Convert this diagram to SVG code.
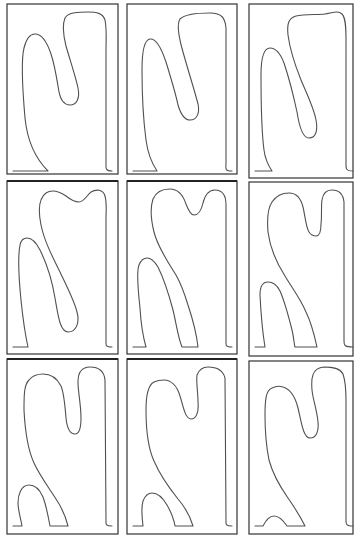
<svg xmlns="http://www.w3.org/2000/svg" width="354" height="535" viewBox="0 0 354 535">
<style>
.frame{fill:#fff;stroke:#333;stroke-width:1.2}
.bold{stroke:#222;stroke-width:2}
.curve{fill:none;stroke:#505050;stroke-width:1.1;stroke-linejoin:round;stroke-linecap:round}
</style>
<rect width="354" height="535" fill="#fff"/>
<g id="panel1">
<rect class="frame" x="7" y="4" width="111" height="170"/>
<path class="curve" d="M13,171 H48 C40,163 28,148 25,118 C23,95 21,60 24,48 C27,36 31,34 35,34 C42,34 47,42 51,54 C55,66 57,80 59,92 C61,102 65,105 70,105 C77,105 80,98 78,88 C76,78 70,60 66,46 C63,34 62,25 65,18 C68,12 80,12 88,12 C96,12 103,13 105,20 C107,30 106,40 106,50 L106,163 C106,168 105,171 112,171"/>
</g>
<g id="panel2">
<rect class="frame" x="127" y="4" width="110" height="170"/>
<path class="curve" d="M133,171 H157 C153,165 148,155 146,140 C144,125 142,95 142,70 C142,55 143,40 150,39 C157,38 162,50 166,62 C170,75 176,95 178,105 C181,115 185,120 190,120 C197,120 200,113 198,104 C195,92 188,70 183,52 C179,38 176,25 180,19 C185,14 200,13 210,13 C222,13 225,18 226,28 L226,163 C226,168 224,171 232,171"/>
</g>
<g id="panel3">
<rect class="frame" x="249" y="4" width="104" height="174"/>
<path class="curve" d="M255,171 H272 C268,165 265,158 264,150 C262,135 261,100 261,75 C261,60 263,48 270,48 C277,48 281,55 284,63 C289,78 294,98 297,112 C299,125 302,138 309,138 C316,138 318,130 316,120 C314,108 306,92 301,80 C295,65 290,50 288,35 C287,25 288,18 296,16 C305,14 318,15 325,14 C332,13 338,10 342,14 C346,18 346,30 346,40 L346,163 C346,168 345,171 353,171"/>
</g>
<g id="panel4">
<rect class="frame" x="7" y="181" width="111" height="173"/>
<line class="bold" x1="7" y1="181" x2="118" y2="181"/>
<path class="curve" d="M13,347 H28 C26,338 23,320 21,300 C19,280 18,255 20,245 C21,240 24,238 27,238 C32,238 36,242 40,250 C46,262 52,280 55,298 C58,315 60,332 68,332 C76,332 80,323 77,312 C74,300 66,285 60,272 C52,256 44,240 41,225 C38,210 39,198 46,193 C52,189 60,192 66,196 C71,200 75,202 79,202 C84,202 87,195 91,192 C96,189 103,189 105,196 C107,203 106,210 106,220 L106,341 C106,345 105,347 112,347"/>
</g>
<g id="panel5">
<rect class="frame" x="127" y="181" width="110" height="173"/>
<line class="bold" x1="127" y1="181" x2="237" y2="181"/>
<path class="curve" d="M133,347 H146 C144,340 141,325 140,308 C138,290 137,270 139,265 C141,260 144,258 147,258 C152,258 155,262 158,267 C163,277 169,295 173,310 C176,322 178,338 182,347 H198 C197,338 193,320 188,305 C184,292 180,282 176,275 C168,262 158,248 154,232 C151,220 150,208 153,199 C156,192 162,189 170,189 C178,189 183,195 186,204 C189,212 191,215 194,215 C198,215 201,212 203,203 C205,195 208,190 215,190 C222,190 226,195 226,205 L226,341 C226,345 225,347 232,347"/>
</g>
<g id="panel6">
<rect class="frame" x="249" y="182" width="104" height="174"/>
<path class="curve" d="M255,347 H265 C263,335 261,315 260,295 C260,288 262,282 268,282 C273,282 277,285 280,291 C284,300 289,318 292,330 C294,338 294,344 295,347 H317 C315,338 311,322 306,312 C300,298 292,288 285,276 C276,262 270,248 268,232 C267,220 268,208 272,202 C276,196 282,193 289,193 C297,193 301,199 303,207 C305,215 306,228 309,232 C311,235 313,236 316,236 C319,236 321,232 321,224 C322,215 321,206 322,200 C323,193 327,190 332,190 C338,190 343,193 344,202 L344,341 C344,345 344,347 353,347"/>
</g>
<g id="panel7">
<rect class="frame" x="7" y="359" width="111" height="175"/>
<line class="bold" x1="7" y1="359" x2="118" y2="359"/>
<path class="curve" d="M13,526 H22 C21,520 18,510 18,503 C18,495 21,485 29,485 C36,485 40,490 43,497 C46,505 48,515 50,526 H68 C66,518 62,508 56,499 C49,488 40,476 34,463 C28,450 25,430 24,410 C24,395 24,385 29,380 C33,375 38,374 43,374 C50,374 57,378 61,386 C64,393 65,405 66,418 C67,428 70,434 75,434 C79,434 81,428 81,418 C81,405 78,392 78,382 C78,372 82,367 90,367 C98,367 104,370 105,380 L106,521 C106,524 105,526 112,526"/>
</g>
<g id="panel8">
<rect class="frame" x="127" y="359" width="110" height="175"/>
<line class="bold" x1="127" y1="359" x2="237" y2="359"/>
<path class="curve" d="M133,526 H143 C142,518 141,508 143,501 C145,496 148,493 152,493 C158,493 163,498 167,505 C171,512 174,520 175,526 H193 C190,516 185,507 178,499 C170,489 160,475 154,461 C148,448 146,430 146,410 C146,395 148,385 154,382 C158,380 161,380 164,380 C171,380 177,386 180,396 C183,405 185,419 191,419 C196,419 199,413 198,402 C198,392 196,382 197,375 C199,370 202,367 208,367 C216,367 223,370 225,378 L226,521 C226,524 225,526 232,526"/>
</g>
<g id="panel9">
<rect class="frame" x="249" y="361" width="104" height="173"/>
<path class="curve" d="M255,526 H263 C266,520 269,516 274,516 C279,516 283,520 287,526 H305 C301,518 295,508 288,498 C281,488 273,475 269,460 C266,445 265,430 265,415 C265,400 266,390 272,388 C276,386 280,386 283,387 C290,389 295,396 298,408 C301,420 303,438 310,438 C316,438 319,432 318,422 C317,410 313,400 312,390 C311,378 312,368 324,367 C333,367 340,368 343,374 C345,380 346,390 346,400 L346,521 C346,524 346,526 353,526"/>
</g>
<g id="connectors"/>
</svg>
